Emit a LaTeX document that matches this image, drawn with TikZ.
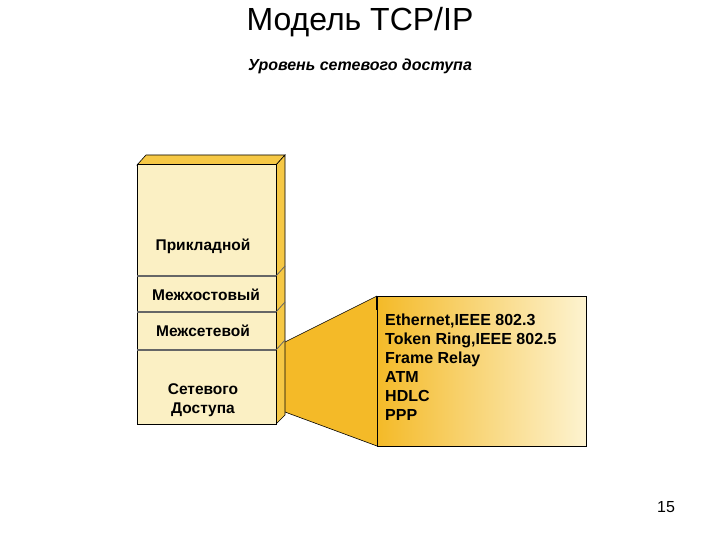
\documentclass[tikz,border=0pt]{standalone}
\usepackage{fontspec}
\setmainfont{Liberation Sans}
\begin{document}
\begin{tikzpicture}[x=1pt,y=-1pt,
  face/.style={fill=front,draw=black,line width=1pt},
  side/.style={fill=sidec,draw=black,line width=0.6pt},
  lbl/.style={font=\bfseries\fontsize{15.5}{19}\selectfont,align=center},
  div/.style={draw=gray!80!black,line width=1.2pt}]
\definecolor{front}{HTML}{FBF0C4}
\definecolor{sidec}{HTML}{F6C845}
\definecolor{deep}{HTML}{F4BA28}
\definecolor{lite}{HTML}{FDF3D0}
\useasboundingbox (0,0) rectangle (720,540);
\node (title) at (360,22) {\fontsize{32}{36}\selectfont Модель TCP/IP};
\node (sub) at (360,66) {\bfseries\itshape\fontsize{16}{18}\selectfont Уровень сетевого доступа};
% callout connector
\fill[deep] (285,342) -- (377,296) -- (377,446) -- (285,412) -- cycle;
\draw[line width=0.6pt] (285,342) -- (377,296) (285,412) -- (377,446);
% stack
\draw[side] (137,165) -- (146,155) -- (285,155) -- (276,165) -- cycle;
\draw[side] (276,165) -- (285,155) -- (285,415) -- (276,424) -- cycle;
\draw[face] (137,165) rectangle (276,424);
\draw[div] (137,276) -- (276,276) (137,312) -- (276,312) (137,350) -- (276,350);
\draw[gray!80!black,line width=0.8pt] (276,276) -- (285,266) (276,312) -- (285,302) (276,350) -- (285,340);
\node[lbl] (l1) at (203,246) {Прикладной};
\node[lbl] (l2) at (206,295) {Межхостовый};
\node[lbl] (l3) at (203,331) {Межсетевой};
\node[lbl] (l4) at (203,400) {Сетевого\\Доступа};
% callout box
\shade[left color=deep,right color=lite] (377,296) rectangle (586,446);
\draw[line width=0.8pt] (377,296) rectangle (586,446);
\draw[line width=2pt] (377,296) -- (377,310);
\node[font=\bfseries\fontsize{16}{19}\selectfont,align=left,anchor=north west,inner sep=0pt] (lst) at (385,314)
 {Ethernet,IEEE 802.3\\Token Ring,IEEE 802.5\\Frame Relay\\ATM\\HDLC\\PPP};
\node (pg) at (666,507) {\fontsize{16}{18}\selectfont 15};
\end{tikzpicture}
\end{document}
